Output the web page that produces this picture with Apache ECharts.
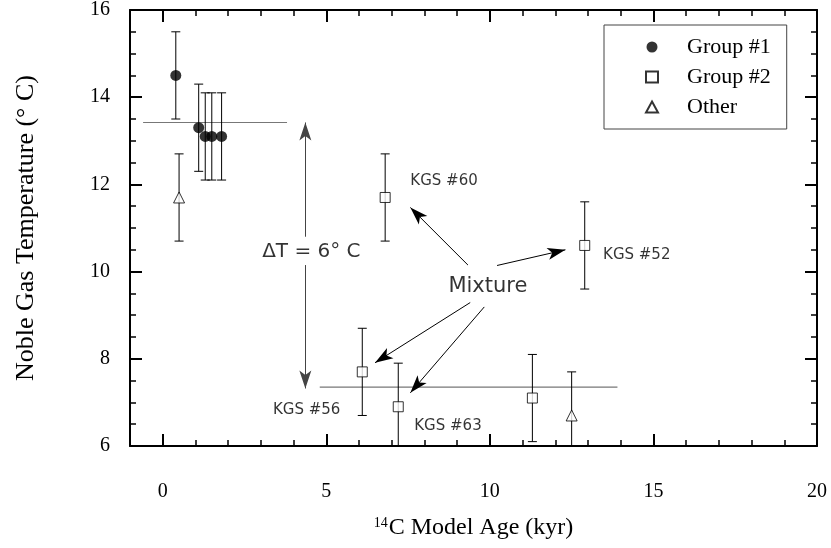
<!DOCTYPE html>
<html>
<head>
<meta charset="utf-8">
<script src="https://cdn.jsdelivr.net/npm/echarts/dist/echarts.min.js"></script>
<style>
  html, body { margin: 0; padding: 0; background: #fff; }
  #chart { width: 831px; height: 548px; }
</style>
</head>
<body>
<div id="chart"></div>
<script>
// values: age in kyr, temperature in deg C, +/- error
const group1X = [0.4, 1.1, 1.3, 1.5, 1.8];
const group1Y = [14.5, 13.3, 13.1, 13.1, 13.1];
const group1Err = [1, 1, 1, 1, 1];

const group2X = [6.8, 12.9, 6.1, 7.2, 11.3];
const group2Y = [11.7, 10.6, 7.7, 6.9, 7.1];
const group2Err = [1, 1, 1, 1, 1];

const otherX = [0.5, 12.5];
const otherY = [11.7, 6.7];
const otherErr = [1, 1];

// horizontal mean lines (x start, x end, y)
const warmLine = [-0.6, 3.8, 13.42];
const coldLine = [4.8, 13.9, 7.35];

// delta T arrow (x, gap bottom, gap top, lower tip, upper tip)
const deltaArrow = [4.36, 10.15, 10.8, 7.32, 13.42];

// arrows from "Mixture" to the mixed samples
const arrowFrom = [[9.33, 10.15], [10.22, 10.14], [9.40, 9.29], [9.83, 9.19]];
const arrowTo = [[7.57, 11.47], [12.31, 10.50], [6.49, 7.91], [7.57, 7.22]];

// text annotations
const sampleNames = ['KGS #60', 'KGS #52', 'KGS #56', 'KGS #63'];
const sampleLabelX = [7.57, 13.46, 3.37, 7.69];
const sampleLabelY = [12.08, 10.38, 6.83, 6.46];
const mixtureLabel = ['Mixture', 9.94, 9.65];
const deltaLabel = ['\u0394T = 6\u00b0 C', 3.04, 10.46];

const xMajorTicks = [0, 5, 10, 15, 20];

const serif = 'Liberation Serif';
const sans = 'DejaVu Sans';

function points(xs, ys) {
  return xs.map((x, i) => [x, ys[i]]);
}
function bars(xs, ys, es) {
  return xs.map((x, i) => [x, ys[i] - es[i], ys[i] + es[i]]);
}

function renderErrorBar(params, api) {
  const x = api.value(0);
  const bot = api.coord([x, api.value(1)]);
  const top = api.coord([x, api.value(2)]);
  const cap = 4.5;
  const style = { stroke: '#000', lineWidth: 1 };
  return {
    type: 'group',
    children: [
      { type: 'line', shape: { x1: top[0], y1: top[1], x2: bot[0], y2: bot[1] }, style: style },
      { type: 'line', shape: { x1: top[0] - cap, y1: top[1], x2: top[0] + cap, y2: top[1] }, style: style },
      { type: 'line', shape: { x1: bot[0] - cap, y1: bot[1], x2: bot[0] + cap, y2: bot[1] }, style: style }
    ]
  };
}

const errorData = bars(group1X, group1Y, group1Err)
  .concat(bars(group2X, group2Y, group2Err))
  .concat(bars(otherX, otherY, otherErr));

const arrowLines = arrowFrom.map((p, i) => [{ coord: p }, { coord: arrowTo[i] }]);

const textData = sampleNames.map((n, i) => ({
  name: n, value: [sampleLabelX[i], sampleLabelY[i]],
  label: { position: 'right', distance: 0, fontSize: 15 }
}));
textData.push({
  name: mixtureLabel[0], value: [mixtureLabel[1], mixtureLabel[2]],
  label: { position: 'inside', fontSize: 21 }
});
textData.push({
  name: deltaLabel[0], value: [deltaLabel[1], deltaLabel[2]],
  label: { position: 'right', distance: 0, fontSize: 20 }
});

function xAxisBase(pos) {
  return {
    type: 'value', position: pos, min: -1, max: 20,
    splitLine: { show: false },
    axisLine: { show: false, onZero: false },
    axisLabel: { show: false },
    axisTick: { show: false }
  };
}

function yAxisBase(pos) {
  return {
    type: 'value', position: pos, min: 6, max: 16, interval: 2,
    splitLine: { show: false },
    axisLine: { show: true, onZero: false, lineStyle: { color: '#000', width: 2 } },
    axisTick: { inside: true, length: 12, lineStyle: { color: '#000', width: 2 } },
    minorTick: { show: true, splitNumber: 4, length: 6, lineStyle: { color: '#000', width: 1.5 } },
    axisLabel: { show: false }
  };
}

const chart = echarts.init(document.getElementById('chart'));

const option = {
  animation: false,
  backgroundColor: '#fff',
  grid: { left: 130, right: 14, top: 10, bottom: 102, outerBoundsMode: 'none' },
  legend: {
    orient: 'vertical',
    left: 604, top: 25,
    padding: [11, 16, 11, 41],
    itemWidth: 12, itemHeight: 11, itemGap: 8,
    borderColor: '#444', borderWidth: 1,
    textStyle: { fontFamily: serif, fontSize: 22, color: '#000', padding: [0, 0, 0, 24] },
    data: ['Group #1', 'Group #2', 'Other']
  },
  xAxis: [
    Object.assign(xAxisBase('bottom'), {
      interval: 1,
      axisLine: { show: true, onZero: false, lineStyle: { color: '#000', width: 2 } },
      axisTick: { show: true, inside: true, length: 6, lineStyle: { color: '#000', width: 1.5 } },
      name: '{sup|14}C Model Age (kyr)',
      nameLocation: 'middle', nameGap: 70,
      nameTextStyle: {
        fontFamily: serif, fontSize: 24, color: '#000',
        rich: { sup: { fontFamily: serif, fontSize: 14, color: '#000', padding: [0, 1, 10, 0] } }
      }
    }),
    Object.assign(xAxisBase('bottom'), {
      axisTick: { show: true, inside: true, length: 12, customValues: xMajorTicks, lineStyle: { color: '#000', width: 2 } },
      axisLabel: { show: true, customValues: xMajorTicks, margin: 36, fontFamily: serif, fontSize: 20, color: '#000' }
    }),
    Object.assign(xAxisBase('top'), {
      interval: 1,
      axisLine: { show: true, onZero: false, lineStyle: { color: '#000', width: 2 } },
      axisTick: { show: true, inside: true, length: 6, lineStyle: { color: '#000', width: 1.5 } }
    }),
    Object.assign(xAxisBase('top'), {
      axisTick: { show: true, inside: true, length: 12, customValues: xMajorTicks, lineStyle: { color: '#000', width: 2 } }
    })
  ],
  yAxis: [
    Object.assign(yAxisBase('left'), {
      axisLabel: { margin: 20, fontFamily: serif, fontSize: 20, color: '#000' },
      name: 'Noble Gas Temperature (\u00b0 C)',
      nameLocation: 'middle', nameGap: 91,
      nameTextStyle: { fontFamily: serif, fontSize: 26, color: '#000' }
    }),
    yAxisBase('right')
  ],
  series: [
    {
      type: 'line', silent: true, symbol: 'none', z: 1,
      lineStyle: { color: '#777', width: 1.2 },
      data: [[warmLine[0], warmLine[2]], [warmLine[1], warmLine[2]]]
    },
    {
      type: 'line', silent: true, symbol: 'none', z: 1,
      lineStyle: { color: '#777', width: 1.2 },
      data: [[coldLine[0], coldLine[2]], [coldLine[1], coldLine[2]]]
    },
    {
      type: 'custom', silent: true, clip: true, z: 2,
      renderItem: renderErrorBar,
      data: errorData
    },
    {
      name: 'Group #1', type: 'scatter', z: 3,
      symbol: 'circle', symbolSize: 11,
      itemStyle: { color: '#000' },
      data: points(group1X, group1Y)
    },
    {
      name: 'Group #2', type: 'scatter', z: 3,
      symbol: 'rect', symbolSize: 10,
      itemStyle: { color: '#fff', borderColor: '#000', borderWidth: 1 },
      data: points(group2X, group2Y)
    },
    {
      name: 'Other', type: 'scatter', z: 3,
      symbol: 'triangle', symbolSize: [11, 11],
      itemStyle: { color: '#fff', borderColor: '#000', borderWidth: 1 },
      data: points(otherX, otherY)
    },
    {
      type: 'scatter', silent: true, symbolSize: 0, z: 4,
      label: { show: true, formatter: '{b}', fontFamily: sans, color: '#000' },
      data: textData,
      markLine: {
        silent: true, animation: false,
        symbol: ['none', 'arrow'], symbolSize: [9, 18],
        label: { show: false },
        lineStyle: { color: '#000', width: 1, type: 'solid' },
        data: arrowLines.concat([
          [{ coord: [deltaArrow[0], deltaArrow[2]], lineStyle: { color: '#444' } },
           { coord: [deltaArrow[0], deltaArrow[4]] }],
          [{ coord: [deltaArrow[0], deltaArrow[1]], lineStyle: { color: '#444' } },
           { coord: [deltaArrow[0], deltaArrow[3]] }]
        ])
      }
    }
  ]
};

chart.setOption(option);
</script>
</body>
</html>
